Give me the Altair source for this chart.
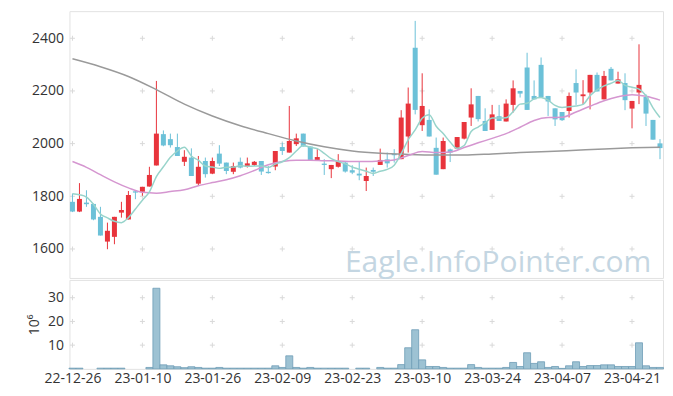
import altair as alt
import pandas as pd

# ---------------- data ----------------
idx = list(range(85))
opens = [1779,1742,1776,1771,1722,1628,1646,1738,1712,1819,
         1817,1837,1917,2036,2017,1987,1931,1947,1848,1934,
         1886,1962,1928,1893,1931,1912,1919,1934,1893,1913,
         1987,1966,1998,2038,1989,1938,1924,1903,1912,1928,
         1899,1886,1858,1900,1919,1940,1961,1941,2027,2364,
         2070,2090,1984,1903,1978,1981,2019,2099,2181,2086,
         2052,2104,2084,2147,2200,2289,2181,2299,2181,2134,
         2120,2124,2230,2180,2194,2261,2168,2284,2228,2230,
         2133,2194,2177,2090,2001]
highs = [1810,1850,1823,1772,1760,1700,1722,1779,1820,1823,
         1836,1912,2238,2050,2038,2038,1975,1982,1953,1947,
         1947,1994,1928,1928,1947,1947,1934,1934,1915,1972,
         2004,2143,2038,2038,1989,1979,1941,1919,1960,1934,
         1918,1932,1909,1909,1981,1966,1979,2127,2213,2466,
         2267,2130,2023,2023,1981,2025,2082,2210,2181,2134,
         2147,2147,2168,2240,2200,2345,2240,2327,2181,2134,
         2120,2194,2282,2241,2261,2270,2276,2291,2273,2267,
         2162,2377,2187,2090,2017]
lows = [1740,1740,1760,1709,1651,1599,1618,1719,1712,1789,
        1802,1837,1917,1990,1985,1953,1915,1877,1840,1871,
        1884,1915,1884,1884,1906,1909,1915,1881,1886,1899,
        1957,1966,1991,1989,1937,1938,1881,1869,1909,1890,
        1884,1861,1820,1877,1919,1909,1928,1941,1966,2111,
        2048,2027,1882,1903,1930,1981,2016,2067,2084,2048,
        2052,2086,2084,2118,2175,2128,2168,2175,2105,2067,
        2086,2099,2147,2149,2130,2198,2168,2240,2228,2127,
        2058,2150,2067,2015,1941]
closes = [1742,1790,1770,1712,1651,1669,1722,1748,1805,1814,
          1836,1881,2038,1993,1994,1953,1950,1877,1912,1884,
          1934,1924,1896,1915,1909,1925,1931,1894,1888,1972,
          1972,2010,2020,1989,1937,1949,1919,1919,1934,1894,
          1890,1879,1877,1893,1938,1925,1956,2099,2152,2128,
          2143,2027,1882,2010,1966,2025,2082,2149,2093,2048,
          2111,2086,2152,2210,2190,2128,2168,2177,2160,2092,
          2089,2181,2194,2187,2261,2198,2257,2240,2244,2165,
          2162,2223,2114,2015,1983]
volumes = [0.3,0.3,0,0,0.3,0.3,0.3,0.3,0,0,
           0,0.6,34,1.7,1.3,0.9,0.5,0.9,0.6,0.3,
           0.3,0.6,0.3,0.3,0.3,0.3,0.3,0.3,0.3,1.3,
           0.6,5.5,0.6,0.3,0.6,0.3,0.3,0.3,0.3,0.3,
           0,0.3,0.3,0,0.6,0.3,0.3,1.8,8.9,16.5,
           3.8,1.0,1.0,0.6,0.3,0.3,0.3,1.8,0.6,0.3,
           0.3,0.3,0.6,2.7,1.0,6.8,2.3,3.0,0.6,1.0,
           0.2,1.3,3.0,1.0,1.4,1.4,1.7,1.7,1.0,1.0,
           1.0,11,1.3,0.6,0.6]
# short moving average (teal)
ma_short = [1810,1806,1797,1770,1733,1718,1705,1700,1719,1752,
            1785,1817,1875,1912,1948,1972,1986,1953,1937,1915,
            1911,1906,1910,1911,1916,1914,1915,1915,1909,1922,
            1931,1947,1972,1993,1986,1981,1963,1943,1932,1923,
            1911,1903,1895,1887,1895,1902,1918,1962,2014,2052,
            2096,2110,2066,2038,2006,1982,1993,2046,2063,2079,
            2097,2097,2098,2121,2150,2153,2170,2175,2165,2145,
            2137,2140,2143,2149,2182,2204,2219,2229,2240,2221,
            2214,2207,2182,2136,2099]
# medium moving average (pink), read every 2 candles
ma_mid_idx = list(range(0, 85, 2))
ma_mid = [1932,1910,1882,1855,1832,1815,1812,1818,1825,1840,
          1852,1863,1878,1898,1920,1932,1937,1937,1935,1934,
          1932,1932,1934,1938,1955,1970,1966,1968,1985,2003,
          2020,2038,2062,2088,2099,2100,2120,2142,2163,2178,
          2186,2180,2165]
# long moving average (gray), read every 4 candles
ma_long_idx = list(range(0, 85, 4))
ma_long = [2322,2292,2255,2205,2150,2105,2068,2038,2010,1988,
           1972,1963,1959,1957,1957,1961,1966,1970,1975,1980,
           1984,1986]

x_tick_idx = [0, 10, 20, 30, 40, 50, 60, 70, 80]
x_tick_labels = ["22-12-26", "23-01-10", "23-01-26", "23-02-09", "23-02-23",
                 "23-03-10", "23-03-24", "23-04-07", "23-04-21"]
price_ticks = [1600, 1800, 2000, 2200, 2400]
vol_ticks = [10, 20, 30]
watermark_text = "Eagle.InfoPointer.com"

# ---------------- styling ----------------
RED = "#e8343c"
BLUE = "#6cc1d8"
TEAL = "#98d4cb"
PINK = "#d596d0"
GRAY = "#9a9a9a"
CROSS = "#d9d9d9"
FONT = "Open Sans"
W = 594

df = pd.DataFrame(dict(i=idx, open=opens, high=highs, low=lows, close=closes))
vdf = pd.DataFrame(dict(i=idx, vol=volumes))
short_df = pd.DataFrame(dict(i=idx, v=ma_short))
mid_df = pd.DataFrame(dict(i=ma_mid_idx, v=ma_mid))
long_df = pd.DataFrame(dict(i=ma_long_idx, v=ma_long))
grid_price = pd.DataFrame([(gx, gy) for gx in x_tick_idx for gy in price_ticks], columns=["gx", "gy"])
grid_vol = pd.DataFrame([(gx, gy) for gx in x_tick_idx for gy in vol_ticks], columns=["gx", "gy"])

xscale = alt.Scale(domain=[-0.43, 84.43], nice=False, zero=False)
yscale = alt.Scale(domain=[1490, 2503], nice=False, zero=False)
vscale = alt.Scale(domain=[0, 37.5], nice=False)

up_color = alt.condition("datum.close >= datum.open", alt.value(RED), alt.value(BLUE))
X = alt.X("i:Q", scale=xscale, axis=None)

cross_shape = "M-1,0H1M0,-1V1"

watermark = alt.Chart(pd.DataFrame({"t": [watermark_text]})).mark_text(
    font=FONT, fontSize=30, color="#c4d6e2", align="center", baseline="alphabetic"
).encode(text="t:N", x=alt.value(429), y=alt.value(261))

pgrid = alt.Chart(grid_price).mark_point(
    shape=cross_shape, size=25, filled=False, color=CROSS, strokeWidth=1, opacity=1
).encode(x=alt.X("gx:Q", scale=xscale, axis=None),
         y=alt.Y("gy:Q", scale=yscale,
                 axis=alt.Axis(values=price_ticks, title=None, format="d")))

wicks = alt.Chart(df).mark_rule(strokeWidth=1).encode(
    x=X, y=alt.Y("low:Q", scale=yscale), y2="high:Q", color=up_color)
bodies = alt.Chart(df).mark_rule(strokeWidth=5).encode(
    x=X, y=alt.Y("open:Q", scale=yscale), y2="close:Q", color=up_color)

def ma_line(d, col):
    return alt.Chart(d).mark_line(color=col, strokeWidth=1.5, interpolate="monotone").encode(
        x=X, y=alt.Y("v:Q", scale=yscale))

price = alt.layer(
    pgrid, watermark, wicks, bodies,
    ma_line(long_df, GRAY), ma_line(mid_df, PINK), ma_line(short_df, TEAL)
).properties(width=W, height=267)

label_expr = "[" + ",".join(f"'{s}'" for s in x_tick_labels) + "][indexof([" + \
    ",".join(str(v) for v in x_tick_idx) + "], datum.value)]"

vgrid = alt.Chart(grid_vol).mark_point(
    shape=cross_shape, size=25, filled=False, color=CROSS, strokeWidth=1, opacity=1
).encode(x=alt.X("gx:Q", scale=xscale,
                 axis=alt.Axis(values=x_tick_idx, labelExpr=label_expr, title=None,
                               labelOverlap=False, labelFlush=False)),
         y=alt.Y("gy:Q", scale=vscale,
                 axis=alt.Axis(values=vol_ticks, title="10⁶", format="d")))

vbars = alt.Chart(vdf).transform_filter("datum.vol > 0").transform_calculate(
    x0="datum.i - 0.5", x1="datum.i + 0.5"
).mark_bar(fill="#9dc2d3", stroke="#6f9db6", strokeWidth=0.8, opacity=1).encode(
    x=alt.X("x0:Q", scale=xscale), x2="x1:Q",
    y=alt.Y("vol:Q", scale=vscale), y2=alt.datum(0))

volume = alt.layer(vgrid, vbars).properties(width=W, height=89)

chart = alt.vconcat(price, volume, spacing=0).properties(
    padding={"left": 18.5, "top": 2, "right": 0, "bottom": 0}
).configure_view(stroke="#e2e2e2").configure_axis(
    domain=False, ticks=False, grid=False,
    labelFont=FONT, labelFontSize=14, labelColor="#333333", labelPadding=6,
    titleFont=FONT, titleFontSize=14, titleFontWeight="normal", titleColor="#333333",
    titlePadding=6
).configure_axisX(labelPadding=3)

chart.save("out.html", embed_options={"renderer": "svg", "actions": False})
